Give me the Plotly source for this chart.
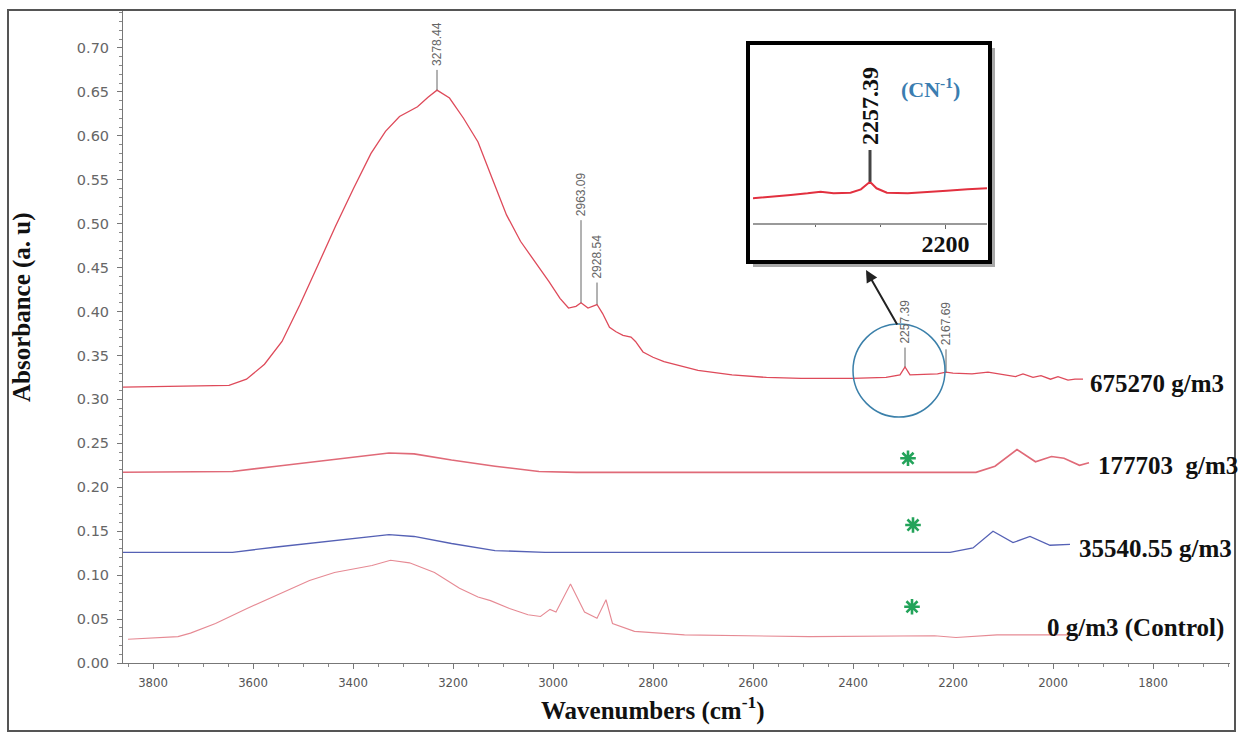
import plotly.graph_objects as go

# ---------------- data ----------------
wn_675270 = [3860, 3750, 3648, 3613, 3577, 3542, 3506, 3470, 3435, 3399, 3364, 3335, 3307, 3271,
             3250, 3232, 3207, 3179, 3150, 3122, 3093, 3065, 3036, 3008, 2986, 2969, 2954, 2944,
             2930, 2912, 2901, 2887, 2874, 2860, 2844, 2835, 2820, 2800, 2778, 2746, 2710, 2642,
             2573, 2504, 2402, 2334, 2306, 2296, 2286, 2231, 2214, 2200, 2162, 2130, 2094, 2075,
             2060, 2040, 2024, 2005, 1990, 1970, 1956, 1940]
abs_675270 = [0.314, 0.315, 0.316, 0.323, 0.340, 0.366, 0.408, 0.453, 0.497, 0.540, 0.580, 0.605, 0.622, 0.633,
              0.644, 0.652, 0.643, 0.620, 0.593, 0.552, 0.510, 0.480, 0.457, 0.434, 0.415, 0.404, 0.406, 0.410,
              0.404, 0.408, 0.398, 0.382, 0.377, 0.373, 0.371, 0.366, 0.354, 0.348, 0.343, 0.338, 0.333, 0.328,
              0.325, 0.324, 0.324, 0.325, 0.328, 0.337, 0.328, 0.329, 0.331, 0.330, 0.329, 0.331, 0.328, 0.326,
              0.329, 0.325, 0.327, 0.323, 0.326, 0.322, 0.323, 0.323]

wn_177703 = [3866, 3641, 3553, 3453, 3366, 3328, 3278, 3203, 3116, 3028, 2953, 2154, 2116, 2072,
             2035, 2003, 1978, 1947, 1928]
abs_177703 = [0.217, 0.218, 0.224, 0.231, 0.237, 0.239, 0.238, 0.231, 0.224, 0.218, 0.217, 0.217, 0.224, 0.243,
              0.229, 0.235, 0.233, 0.225, 0.228]

wn_35540 = [3866, 3641, 3553, 3453, 3366, 3328, 3278, 3203, 3116, 3016, 2206, 2160, 2120, 2080,
            2046, 2006, 1966]
abs_35540 = [0.126, 0.126, 0.132, 0.138, 0.144, 0.146, 0.144, 0.136, 0.128, 0.126, 0.126, 0.131, 0.150, 0.137,
             0.144, 0.134, 0.135]

wn_control = [3850, 3750, 3725, 3675, 3612, 3550, 3487, 3437, 3387, 3362, 3325, 3287, 3237, 3187, 3150,
              3125, 3087, 3050, 3025, 3006, 2994, 2965, 2937, 2912, 2894, 2881, 2837, 2737, 2487, 2237,
              2194, 2112, 1950]
abs_control = [0.027, 0.030, 0.034, 0.045, 0.062, 0.078, 0.094, 0.103, 0.108, 0.111, 0.117, 0.114, 0.103, 0.085,
               0.075, 0.071, 0.062, 0.055, 0.053, 0.061, 0.058, 0.090, 0.058, 0.051, 0.072, 0.045, 0.036, 0.032,
               0.030, 0.031, 0.029, 0.032, 0.032]

# peak picks on the top spectrum
peak_labels = ["3278.44", "2963.09", "2928.54", "2257.39", "2167.69"]
peak_wn = [3232, 2944, 2912, 2296, 2214]
peak_abs = [0.652, 0.410, 0.408, 0.337, 0.331]
peak_top = [0.675, 0.504, 0.433, 0.359, 0.357]

# green asterisks (no CN peak in the other samples)
star_wn = [2290, 2280, 2282]
star_abs = [0.233, 0.157, 0.064]

# inset (zoom on the CN band)
inset_wn = [2348, 2332, 2319, 2306, 2296, 2286, 2273, 2265, 2258, 2253, 2245, 2229, 2214, 2199, 2183, 2168]
inset_abs = [0.3217, 0.3227, 0.3239, 0.3250, 0.3261, 0.3250, 0.3254, 0.3277, 0.3328, 0.3284, 0.3254,
             0.3250, 0.3261, 0.3268, 0.3277, 0.3284]
inset_peak_label = "2257.39"
inset_peak_wn = 2258
inset_peak_abs = 0.3328
inset_peak_top = 0.3542
inset_ticks = [2200]

series_labels = ["675270 g/m3", "177703  g/m3", "35540.55 g/m3", "0 g/m3 (Control)"]

# ---------------- layout helpers ----------------
W, H = 1242, 734
PL, PR, PT, PB = 123, 1230, 10, 663


def px(x):
    return (x - PL) / (PR - PL)


def py(y):
    return (PB - y) / (PB - PT)


SERIF = "Liberation Serif, Times New Roman, serif"

fig = go.Figure()

fig.add_trace(go.Scatter(x=wn_675270, y=abs_675270, mode="lines",
                         line=dict(color="#de4a5a", width=1.3), showlegend=False))
fig.add_trace(go.Scatter(x=wn_177703, y=abs_177703, mode="lines",
                         line=dict(color="#e06a78", width=1.6), showlegend=False))
fig.add_trace(go.Scatter(x=wn_35540, y=abs_35540, mode="lines",
                         line=dict(color="#5561b5", width=1.3), showlegend=False))
fig.add_trace(go.Scatter(x=wn_control, y=abs_control, mode="lines",
                         line=dict(color="#e68a94", width=1.1), showlegend=False))
fig.add_trace(go.Scatter(x=star_wn, y=star_abs, mode="markers",
                         marker=dict(symbol="asterisk-open", size=13, color="#23a35a",
                                     line=dict(color="#23a35a", width=2.6)),
                         showlegend=False))

# inset spectrum
fig.add_trace(go.Scatter(x=inset_wn, y=inset_abs, mode="lines", xaxis="x2", yaxis="y2",
                         line=dict(color="#e2303f", width=2), showlegend=False))

shapes = []
annotations = []

# peak pick lines + labels
for lab, w, a, t in zip(peak_labels, peak_wn, peak_abs, peak_top):
    shapes.append(dict(type="line", xref="x", yref="y", x0=w, x1=w, y0=a, y1=t,
                       line=dict(color="#666", width=1)))
    annotations.append(dict(x=w, y=t, xref="x", yref="y", text=lab, showarrow=False,
                            textangle=-90, yanchor="bottom", xanchor="center", yshift=2,
                            font=dict(family="Liberation Sans, Arial, sans-serif", size=12,
                                      color="#666")))

# outer frame
shapes.append(dict(type="rect", xref="paper", yref="paper", x0=px(8), x1=px(1235), y0=py(731),
                   y1=py(10), line=dict(color="#555", width=2)))

# inset box with shadow
shapes.append(dict(type="rect", xref="paper", yref="paper", x0=px(753), x1=px(995), y0=py(267),
                   y1=py(48), fillcolor="#a8a8a8", line=dict(width=0), layer="below"))
shapes.append(dict(type="rect", xref="paper", yref="paper", x0=px(748), x1=px(990), y0=py(262),
                   y1=py(43), fillcolor="white", line=dict(width=0), layer="below"))
shapes.append(dict(type="rect", xref="paper", yref="paper", x0=px(748), x1=px(990), y0=py(262),
                   y1=py(43), line=dict(color="#000", width=4)))

# inset peak pick
shapes.append(dict(type="line", xref="x2", yref="y2", x0=inset_peak_wn, x1=inset_peak_wn,
                   y0=inset_peak_abs, y1=inset_peak_top, line=dict(color="#444", width=3)))
annotations.append(dict(x=inset_peak_wn, y=inset_peak_top, xref="x2", yref="y2",
                        text="<b>" + inset_peak_label + "</b>", showarrow=False, textangle=-90,
                        yanchor="bottom", xanchor="center", yshift=3,
                        font=dict(family=SERIF, size=24, color="#111")))
annotations.append(dict(x=px(930), y=py(88), xref="paper", yref="paper",
                        text="<b>(CN<sup>-1</sup>)</b>", showarrow=False,
                        xanchor="center", yanchor="middle",
                        font=dict(family=SERIF, size=22, color="#3a7db0")))

# circle + arrow
shapes.append(dict(type="circle", xref="paper", yref="paper", x0=px(853), x1=px(945),
                   y0=py(417), y1=py(324), line=dict(color="#3b80aa", width=1.5)))
annotations.append(dict(x=px(866), y=py(270), xref="paper", yref="paper", text="",
                        showarrow=True, ax=32, ay=56, arrowhead=2, arrowsize=1.2,
                        arrowwidth=2, arrowcolor="#222"))

# series labels
label_pos = [(1088, 383), (1096, 466), (1077, 548), (1045, 628)]
for lab, (lx, ly) in zip(series_labels, label_pos):
    annotations.append(dict(x=px(lx), y=py(ly), xref="paper", yref="paper",
                            text="<b>" + lab + "</b>", showarrow=False, xanchor="left",
                            yanchor="middle", font=dict(family=SERIF, size=25, color="#111")))

# axis titles
annotations.append(dict(x=px(22), y=py(307), xref="paper", yref="paper",
                        text="<b>Absorbance (a. u)</b>", showarrow=False, textangle=-90,
                        xanchor="center", yanchor="middle",
                        font=dict(family=SERIF, size=25, color="#111")))
annotations.append(dict(x=px(653), y=py(708), xref="paper", yref="paper",
                        text="<b>Wavenumbers (cm<sup>-1</sup>)</b>", showarrow=False,
                        xanchor="center", yanchor="middle",
                        font=dict(family=SERIF, size=25, color="#111")))

fig.update_layout(
    width=W, height=H,
    margin=dict(l=PL, r=W - PR, t=PT, b=H - PB, autoexpand=False),
    paper_bgcolor="white", plot_bgcolor="white",
    showlegend=False,
    xaxis=dict(range=[3860, 1646], showgrid=False, zeroline=False, showline=True,
               linecolor="#777", linewidth=1, ticks="outside", ticklen=5, tickcolor="#777",
               tick0=0, dtick=200, ticklabelstandoff=2, automargin=False,
               minor=dict(ticks="outside", ticklen=3, dtick=50, tickcolor="#888"),
               tickfont=dict(family="Liberation Sans Narrow, Arial Narrow, DejaVu Sans Condensed, sans-serif",
                             size=13, color="#555")),
    yaxis=dict(range=[0, 0.7432], showgrid=False, zeroline=False, showline=True,
               linecolor="#777", linewidth=1, ticks="outside", ticklen=5, tickcolor="#777",
               tick0=0, dtick=0.05, tickformat=".2f", ticklabelstandoff=5, automargin=False,
               minor=dict(ticks="outside", ticklen=3, dtick=0.01, tickcolor="#888"),
               tickfont=dict(family="DejaVu Sans, sans-serif", size=14.5, color="#666")),
    xaxis2=dict(domain=[px(753), px(987)], anchor="y2", range=[2348, 2168], showgrid=False,
                zeroline=False, showline=True, linecolor="#999", linewidth=1.5, automargin=False,
                ticks="outside", ticklen=4, tickcolor="#666", tickvals=inset_ticks,
                ticktext=[f"<b>{t}</b>" for t in inset_ticks], ticklabelstandoff=-6,
                minor=dict(ticks="outside", ticklen=2, dtick=50, tickcolor="#666"),
                tickfont=dict(family=SERIF, size=24, color="#111")),
    yaxis2=dict(domain=[py(223), py(45)], anchor="x2", range=[0.305, 0.425], visible=False),
    shapes=shapes,
    annotations=annotations,
)

fig.write_html("out.html", config={"displayModeBar": False},
               post_script="document.body.style.margin='0px';document.body.style.overflow='hidden';")
